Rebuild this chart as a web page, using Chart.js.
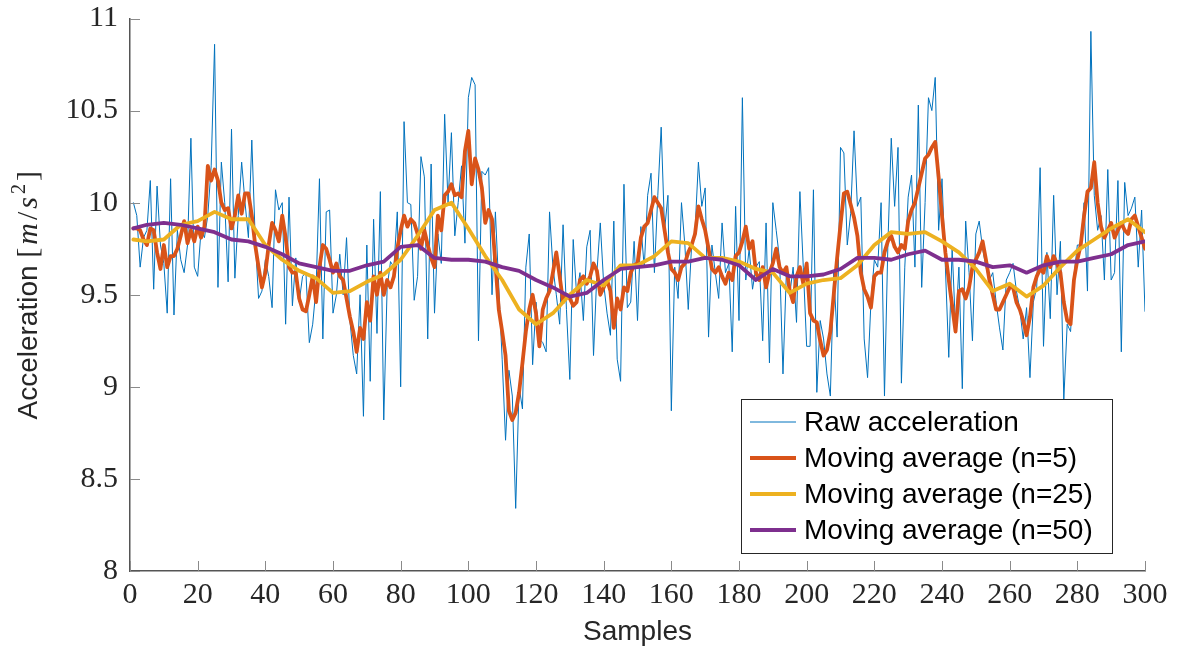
<!DOCTYPE html>
<html>
<head>
<meta charset="utf-8">
<script src="https://cdn.jsdelivr.net/npm/chart.js@4.4.1/dist/chart.umd.min.js"></script>
<style>
  body { margin: 0; background: #fff; }
  #wrap { width: 1185px; height: 650px; }
</style>
</head>
<body>
<div id="wrap"><canvas id="myChart" width="1185" height="650"></canvas></div>
<script>
// values (samples 1..300)
const rawAccel = [
  10.00, 9.93, 9.65, 9.81, 9.85, 10.12, 9.53, 10.09, 9.77, 9.67,
  9.40, 10.13, 9.39, 9.85, 9.69, 9.62, 9.77, 10.35, 9.65, 9.60,
  9.85, 9.81, 9.93, 10.20, 10.86, 9.54, 10.22, 10.00, 9.57, 10.40,
  9.59, 9.93, 10.22, 10.00, 9.81, 10.34, 9.81, 9.48, 9.52, 9.69,
  9.60, 9.43, 10.07, 9.96, 10.00, 9.34, 10.03, 9.44, 9.70, 9.46,
  9.60, 9.62, 9.24, 9.34, 9.54, 10.13, 9.26, 9.95, 9.96, 9.40,
  9.50, 9.72, 9.50, 9.81, 9.36, 9.17, 9.07, 9.50, 8.84, 9.77,
  9.03, 9.91, 9.29, 10.06, 8.82, 9.54, 9.68, 9.65, 9.95, 9.00,
  10.44, 10.00, 9.99, 9.47, 9.60, 10.25, 10.14, 9.26, 10.21, 9.40,
  9.83, 9.67, 10.48, 10.00, 10.38, 9.82, 10.00, 10.20, 9.78, 10.57,
  10.68, 10.64, 9.25, 10.17, 10.15, 10.19, 9.50, 9.95, 9.54, 9.15,
  8.71, 9.09, 8.95, 8.34, 9.00, 8.88, 9.65, 9.83, 9.12, 9.46,
  9.26, 9.24, 9.19, 9.95, 9.65, 9.50, 9.34, 9.88, 9.42, 9.04,
  9.80, 9.50, 9.62, 9.36, 9.76, 9.85, 9.17, 9.62, 9.89, 9.56,
  9.40, 9.28, 9.90, 9.15, 9.03, 10.10, 9.43, 9.46, 9.79, 9.36,
  9.87, 9.65, 10.04, 10.16, 9.62, 10.04, 10.41, 9.85, 10.04, 8.87,
  9.65, 9.48, 10.00, 9.77, 9.42, 9.77, 9.85, 10.22, 9.98, 10.08,
  9.27, 9.77, 9.62, 9.48, 9.89, 9.62, 9.67, 9.19, 9.98, 9.36,
  10.57, 9.58, 9.75, 9.53, 9.65, 9.68, 9.25, 9.89, 9.13, 10.00,
  9.85, 9.69, 9.07, 9.62, 9.50, 9.65, 9.35, 10.06, 9.65, 9.22,
  9.22, 10.07, 8.97, 9.36, 9.26, 9.07, 8.95, 9.62, 9.27, 10.30,
  10.27, 9.77, 9.94, 10.39, 9.98, 10.03, 9.26, 9.05, 9.46, 9.69,
  9.65, 10.00, 8.95, 9.77, 10.35, 9.98, 10.30, 9.02, 9.65, 10.03,
  10.15, 9.65, 10.53, 9.54, 10.00, 10.57, 10.50, 10.68, 9.85, 10.13,
  9.65, 9.16, 9.75, 9.32, 9.65, 8.99, 9.90, 9.62, 9.25, 9.83,
  9.90, 9.75, 9.65, 9.58, 9.62, 9.46, 9.32, 9.20, 9.58, 9.62,
  9.67, 9.52, 9.42, 9.26, 9.43, 9.05, 9.46, 9.54, 10.19, 9.22,
  9.73, 9.37, 10.04, 9.50, 9.79, 8.93, 9.34, 9.30, 9.60, 9.77,
  9.77, 10.00, 9.52, 10.93, 10.04, 9.85, 9.93, 9.58, 10.18, 9.58,
  9.62, 10.12, 9.19, 10.11, 9.93, 9.97, 10.03, 9.65, 9.96, 9.41
];

const movAvg5 = [
  9.86, 9.86, 9.85, 9.80, 9.77, 9.86, 9.85, 9.73, 9.64, 9.77,
  9.65, 9.71, 9.71, 9.75, 9.82, 9.90, 9.78, 9.85, 9.79, 9.87,
  9.81, 9.87, 10.20, 10.12, 10.18, 10.12, 10.00, 9.96, 9.97, 9.86,
  9.93, 10.04, 9.94, 10.05, 10.05, 9.93, 9.77, 9.65, 9.54, 9.62,
  9.77, 9.89, 9.85, 9.79, 9.93, 9.81, 9.65, 9.62, 9.62, 9.48,
  9.42, 9.41, 9.50, 9.60, 9.46, 9.65, 9.77, 9.75, 9.69, 9.62,
  9.67, 9.60, 9.58, 9.48, 9.38, 9.30, 9.19, 9.32, 9.26, 9.46,
  9.36, 9.60, 9.50, 9.62, 9.50, 9.58, 9.54, 9.60, 9.75, 9.85,
  9.93, 9.87, 9.91, 9.89, 9.83, 9.75, 9.85, 9.77, 9.70, 9.65,
  9.93, 9.85, 10.04, 10.06, 10.10, 10.04, 10.05, 10.03, 10.28, 10.39,
  10.10, 10.24, 10.18, 10.08, 9.89, 9.96, 9.91, 9.67, 9.42, 9.30,
  9.17, 8.87, 8.82, 8.86, 8.97, 9.13, 9.30, 9.42, 9.50, 9.40,
  9.22, 9.42, 9.48, 9.52, 9.62, 9.73, 9.60, 9.46, 9.50, 9.48,
  9.44, 9.46, 9.58, 9.60, 9.56, 9.60, 9.67, 9.63, 9.50, 9.54,
  9.58, 9.52, 9.32, 9.48, 9.42, 9.54, 9.52, 9.62, 9.66, 9.67,
  9.81, 9.87, 9.89, 9.96, 10.03, 10.00, 9.97, 9.85, 9.73, 9.64,
  9.62, 9.58, 9.65, 9.67, 9.73, 9.77, 9.83, 9.98, 9.91, 9.85,
  9.75, 9.64, 9.62, 9.65, 9.60, 9.56, 9.62, 9.58, 9.71, 9.73,
  9.79, 9.87, 9.75, 9.79, 9.62, 9.58, 9.65, 9.54, 9.62, 9.67,
  9.75, 9.65, 9.62, 9.65, 9.52, 9.46, 9.60, 9.65, 9.56, 9.67,
  9.40, 9.36, 9.35, 9.25, 9.17, 9.20, 9.30, 9.50, 9.70, 9.88,
  10.05, 10.06, 9.99, 9.92, 9.82, 9.62, 9.53, 9.49, 9.43, 9.60,
  9.62, 9.62, 9.73, 9.79, 9.82, 9.76, 9.73, 9.77, 9.75, 9.90,
  9.96, 10.00, 10.08, 10.16, 10.24, 10.26, 10.30, 10.33, 10.14, 9.93,
  9.73, 9.58, 9.44, 9.30, 9.52, 9.53, 9.48, 9.54, 9.65, 9.69,
  9.73, 9.79, 9.69, 9.58, 9.50, 9.42, 9.42, 9.46, 9.50, 9.54,
  9.54, 9.46, 9.42, 9.36, 9.28, 9.38, 9.54, 9.60, 9.64, 9.62,
  9.71, 9.65, 9.71, 9.67, 9.62, 9.46, 9.36, 9.34, 9.58, 9.69,
  9.77, 9.93, 10.06, 10.08, 10.22, 10.00, 9.87, 9.81, 9.85, 9.89,
  9.81, 9.85, 9.89, 9.85, 9.83, 9.91, 9.93, 9.87, 9.81, 9.75
];

// the two slow averages, read every 5 samples
const avgSamples = [1, 5, 10, 15, 20, 25, 30, 35, 40, 45, 50, 55, 60, 65, 70, 75, 80, 85, 90, 95, 100,
  105, 110, 115, 120, 125, 130, 135, 140, 145, 150, 155, 160, 165, 170, 175, 180, 185, 190, 195, 200,
  205, 210, 215, 220, 225, 230, 235, 240, 245, 250, 255, 260, 265, 270, 275, 280, 285, 290, 295, 300];
const movAvg25 = [9.80, 9.79, 9.80, 9.88, 9.90, 9.95, 9.91, 9.91, 9.77, 9.69, 9.63, 9.59, 9.51, 9.52, 9.57, 9.61, 9.69, 9.82, 9.96, 10.00, 9.86,
  9.71, 9.58, 9.42, 9.34, 9.40, 9.50, 9.58, 9.55, 9.66, 9.66, 9.71, 9.79, 9.78, 9.70, 9.70, 9.68, 9.64, 9.62, 9.51, 9.56,
  9.58, 9.59, 9.66, 9.77, 9.84, 9.83, 9.84, 9.79, 9.73, 9.64, 9.52, 9.56, 9.49, 9.55, 9.65, 9.74, 9.80, 9.86, 9.91, 9.84];
const movAvg50 = [9.86, 9.88, 9.89, 9.88, 9.86, 9.84, 9.80, 9.79, 9.76, 9.72, 9.67, 9.65, 9.63, 9.63, 9.66, 9.68, 9.76, 9.77, 9.70, 9.69, 9.69,
  9.68, 9.65, 9.63, 9.58, 9.54, 9.49, 9.51, 9.58, 9.64, 9.65, 9.66, 9.68, 9.68, 9.70, 9.69, 9.66, 9.58, 9.64, 9.60, 9.60,
  9.61, 9.64, 9.70, 9.70, 9.69, 9.72, 9.74, 9.69, 9.69, 9.68, 9.65, 9.66, 9.62, 9.66, 9.68, 9.68, 9.70, 9.72, 9.77, 9.79];

const seriesNames = ["Raw acceleration", "Moving average (n=5)", "Moving average (n=25)", "Moving average (n=50)"];
const xTickValues = [0, 20, 40, 60, 80, 100, 120, 140, 160, 180, 200, 220, 240, 260, 280, 300];
const yTickValues = [8, 8.5, 9, 9.5, 10, 10.5, 11];

const serif = "'Liberation Serif', 'DejaVu Serif', serif";
const sans = "'Liberation Sans', Arial, sans-serif";

// inward ticks like the original
const inwardTicks = {
  id: 'inwardTicks',
  afterDraw(chart) {
    const ctx = chart.ctx;
    const area = chart.chartArea;
    const xs = chart.scales.x;
    const ys = chart.scales.y;
    ctx.save();
    ctx.strokeStyle = '#8a8a8a';
    ctx.lineWidth = 1;
    ctx.beginPath();
    xs.ticks.forEach(t => {
      const px = Math.round(xs.getPixelForValue(t.value)) + 0.5;
      ctx.moveTo(px, area.bottom);
      ctx.lineTo(px, area.bottom - 10);
    });
    ys.ticks.forEach(t => {
      const py = Math.round(ys.getPixelForValue(t.value)) + 0.5;
      ctx.moveTo(area.left, py);
      ctx.lineTo(area.left + 10, py);
    });
    ctx.stroke();
    ctx.restore();
  }
};

// y title with mixed text and math font
const yTitle = {
  id: 'yTitle',
  afterDraw(chart) {
    const ctx = chart.ctx;
    const area = chart.chartArea;
    const parts = [
      { t: "Acceleration ", f: "28px " + sans, dy: 0 },
      { t: "[", f: "30px " + serif, dy: 0 },
      { t: "m", f: "italic 30px " + serif, dy: 0 },
      { t: "/", f: "30px " + serif, dy: 0 },
      { t: "s", f: "italic 30px " + serif, dy: 0 },
      { t: "2", f: "20px " + serif, dy: -12 },
      { t: "]", f: "30px " + serif, dy: 0 }
    ];
    ctx.save();
    let total = 0;
    parts.forEach(p => { ctx.font = p.f; p.w = ctx.measureText(p.t).width + (p.t === "Acceleration " ? 0 : 3); total += p.w; });
    ctx.translate(37, (area.top + area.bottom) / 2 - 1);
    ctx.rotate(-Math.PI / 2);
    ctx.fillStyle = '#262626';
    ctx.textBaseline = 'alphabetic';
    let x = -total / 2;
    parts.forEach(p => {
      ctx.font = p.f;
      ctx.fillText(p.t, x, p.dy);
      x += p.w;
    });
    ctx.restore();
  }
};

// boxed legend in the lower right, like the original
const boxLegend = {
  id: 'boxLegend',
  afterDraw(chart) {
    const ctx = chart.ctx;
    const left = 741, top = 399, right = 1112, bottom = 553;
    ctx.save();
    ctx.fillStyle = '#fff';
    ctx.fillRect(left, top, right - left, bottom - top);
    ctx.strokeStyle = '#262626';
    ctx.lineWidth = 1;
    ctx.strokeRect(left + 0.5, top + 0.5, right - left, bottom - top);
    ctx.font = "28px " + sans;
    ctx.textBaseline = 'middle';
    chart.data.datasets.forEach((ds, i) => {
      const y = 422 + i * 36;
      ctx.strokeStyle = ds.borderColor;
      ctx.lineWidth = ds.borderWidth;
      ctx.beginPath();
      ctx.moveTo(750, y);
      ctx.lineTo(796, y);
      ctx.stroke();
      ctx.fillStyle = '#000';
      ctx.fillText(ds.label, 804, y + 1);
    });
    ctx.restore();
  }
};

const data = {
  datasets: [
    {
      label: seriesNames[0],
      data: rawAccel.map((v, i) => ({ x: i + 1, y: v })),
      borderColor: '#0072BD',
      borderWidth: 1,
      order: 4
    },
    {
      label: seriesNames[1],
      data: movAvg5.map((v, i) => ({ x: i + 1, y: v })),
      borderColor: '#D95319',
      borderWidth: 3.8,
      order: 3
    },
    {
      label: seriesNames[2],
      data: movAvg25.map((v, i) => ({ x: avgSamples[i], y: v })),
      borderColor: '#EDB120',
      borderWidth: 3.8,
      order: 2
    },
    {
      label: seriesNames[3],
      data: movAvg50.map((v, i) => ({ x: avgSamples[i], y: v })),
      borderColor: '#7E2F8E',
      borderWidth: 3.8,
      order: 1
    }
  ]
};

const config = {
  type: 'line',
  data: data,
  options: {
    responsive: false,
    animation: false,
    devicePixelRatio: 1,
    layout: { padding: { left: 0, right: 40, top: 18.5, bottom: 0 } },
    elements: {
      point: { radius: 0 },
      line: { tension: 0, borderJoinStyle: 'round', borderCapStyle: 'round' }
    },
    plugins: {
      legend: { display: false },
      tooltip: { enabled: false }
    },
    scales: {
      x: {
        type: 'linear',
        min: 0,
        max: 300,
        afterBuildTicks: (scale) => { scale.ticks = xTickValues.map(v => ({ value: v })); },
        afterFit: (scale) => { scale.height = 79; },
        grid: { display: false, drawTicks: false },
        border: { display: true, color: '#555555', width: 1.5 },
        ticks: { font: { family: serif, size: 30 }, color: '#262626', padding: 6, maxRotation: 0, autoSkip: false,
          callback: (v) => String(v) },
        title: { display: true, text: 'Samples', font: { family: sans, size: 28 }, color: '#262626', padding: { top: 0, bottom: 1 } }
      },
      y: {
        type: 'linear',
        min: 8,
        max: 11,
        afterBuildTicks: (scale) => { scale.ticks = yTickValues.map(v => ({ value: v })); },
        afterFit: (scale) => { scale.width = 130; scale.paddingTop = 0; scale.paddingBottom = 0; },
        grid: { display: false, drawTicks: false },
        border: { display: true, color: '#555555', width: 1.5 },
        ticks: { font: { family: serif, size: 30 }, color: '#262626', padding: 12,
          callback: (v) => String(v) }
      }
    }
  },
  plugins: [inwardTicks, yTitle, boxLegend]
};

const myChart = new Chart(document.getElementById('myChart'), config);
</script>
</body>
</html>
